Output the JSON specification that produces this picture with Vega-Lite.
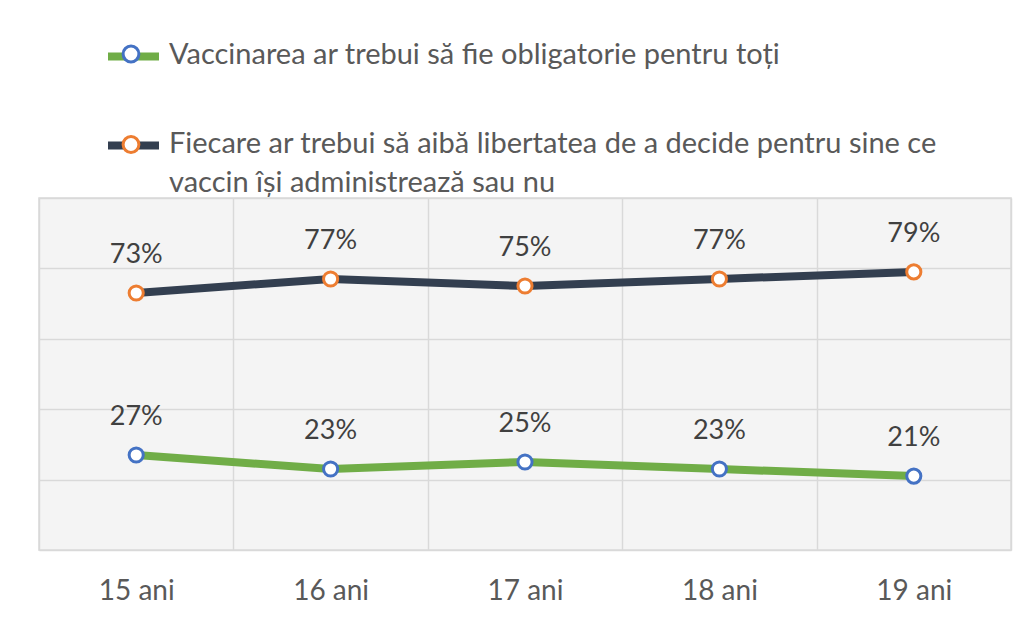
{
  "$schema": "https://vega.github.io/schema/vega-lite/v6.json",
  "autosize": "none",
  "width": 972,
  "height": 352,
  "padding": {"left": 39, "top": 198, "right": 15, "bottom": 75},
  "background": "white",
  "config": {
    "view": {"fill": "#f4f4f4", "stroke": "#d9d9d9", "strokeWidth": 1.5},
    "font": "Lato"
  },
  "data": {
    "values": [
      {"age": "15 ani", "series": "Vaccinarea ar trebui să fie obligatorie pentru toți", "value": 0.27},
      {"age": "16 ani", "series": "Vaccinarea ar trebui să fie obligatorie pentru toți", "value": 0.23},
      {"age": "17 ani", "series": "Vaccinarea ar trebui să fie obligatorie pentru toți", "value": 0.25},
      {"age": "18 ani", "series": "Vaccinarea ar trebui să fie obligatorie pentru toți", "value": 0.23},
      {"age": "19 ani", "series": "Vaccinarea ar trebui să fie obligatorie pentru toți", "value": 0.21},
      {"age": "15 ani", "series": "Fiecare ar trebui să aibă libertatea de a decide pentru sine ce vaccin își administrează sau nu", "value": 0.73},
      {"age": "16 ani", "series": "Fiecare ar trebui să aibă libertatea de a decide pentru sine ce vaccin își administrează sau nu", "value": 0.77},
      {"age": "17 ani", "series": "Fiecare ar trebui să aibă libertatea de a decide pentru sine ce vaccin își administrează sau nu", "value": 0.75},
      {"age": "18 ani", "series": "Fiecare ar trebui să aibă libertatea de a decide pentru sine ce vaccin își administrează sau nu", "value": 0.77},
      {"age": "19 ani", "series": "Fiecare ar trebui să aibă libertatea de a decide pentru sine ce vaccin își administrează sau nu", "value": 0.79}
    ]
  },
  "encoding": {
    "x": {
      "field": "age", "type": "ordinal",
      "scale": {"paddingInner": 0, "paddingOuter": 0},
      "axis": {
        "title": null, "grid": true, "tickBand": "extent", "gridColor": "#d9d9d9", "gridWidth": 1.5,
        "ticks": false, "domain": false, "labelAngle": 0,
        "labelFont": "Lato", "labelFontSize": 28, "labelColor": "#595959", "labelPadding": 27
      }
    },
    "y": {
      "field": "value", "type": "quantitative",
      "scale": {"domain": [0, 1], "nice": false},
      "axis": {
        "title": null, "grid": true, "values": [0, 0.2, 0.4, 0.6, 0.8, 1],
        "gridColor": "#d9d9d9", "gridWidth": 1.5,
        "labels": false, "ticks": false, "domain": false
      }
    }
  },
  "layer": [
    {
      "mark": {"type": "line", "strokeWidth": 8},
      "encoding": {
        "color": {
          "field": "series", "type": "nominal",
          "scale": {
            "domain": ["Vaccinarea ar trebui să fie obligatorie pentru toți", "Fiecare ar trebui să aibă libertatea de a decide pentru sine ce vaccin își administrează sau nu"],
            "range": ["#70ad47", "#333f50"]
          },
          "legend": {
            "title": null, "orient": "none", "legendX": 65, "legendY": -171, "direction": "vertical",
            "padding": 0, "zindex": 1,
            "symbolType": "M-1,0H1", "symbolSize": 2601, "symbolStrokeWidth": 3,
            "labelFont": "Lato", "labelFontSize": 29, "labelColor": "#595959", "labelLimit": 950,
            "labelOffset": 6, "rowPadding": 43, "labelBaseline": "top",
            "labelExpr": "indexof(datum.label, 'Fiecare') == 0 ? ['Fiecare ar trebui să aibă libertatea de a decide pentru sine ce', 'vaccin își administrează sau nu'] : datum.label",
            "encode": {
              "symbols": {"update": {"strokeWidth": {"value": 8}, "fill": {"value": "transparent"}}},
              "labels": {"update": {"lineHeight": {"value": 39}, "dy": {"value": -16}}}
            }
          }
        }
      }
    },
    {
      "mark": {"type": "point", "filled": false, "fill": "white", "size": 200, "strokeWidth": 3, "opacity": 1},
      "encoding": {
        "stroke": {
          "field": "series", "type": "nominal",
          "sort": ["Vaccinarea ar trebui să fie obligatorie pentru toți", "Fiecare ar trebui să aibă libertatea de a decide pentru sine ce vaccin își administrează sau nu"],
          "scale": {"range": ["#4472c4", "#ed7d31"]},
          "legend": {
            "title": null, "orient": "none", "legendX": 65, "legendY": -171, "direction": "vertical",
            "padding": 0, "zindex": 2,
            "symbolType": "M0.31,0A0.31,0.31 0 1,1 -0.31,0A0.31,0.31 0 1,1 0.31,0Z", "symbolSize": 2601, "symbolStrokeWidth": 3,
            "symbolOpacity": 1,
            "labelFont": "Lato", "labelFontSize": 29, "labelColor": "#595959", "labelLimit": 950,
            "labelOffset": 6, "rowPadding": 34.5, "labelBaseline": "top",
            "labelExpr": "indexof(datum.label, 'Fiecare') == 0 ? [' ', ' '] : ' '",
            "encode": {
              "symbols": {"update": {"strokeWidth": {"value": 3}, "fill": {"value": "white"}}},
              "labels": {"update": {"lineHeight": {"value": 39}, "dy": {"value": -16}}}
            }
          }
        }
      }
    },
    {
      "mark": {"type": "text", "font": "Lato", "fontSize": 27, "color": "#404040", "baseline": "middle", "dy": -38},
      "encoding": {
        "text": {"field": "value", "type": "quantitative", "format": ".0%"},
        "detail": {"field": "series", "type": "nominal"}
      }
    }
  ]
}
